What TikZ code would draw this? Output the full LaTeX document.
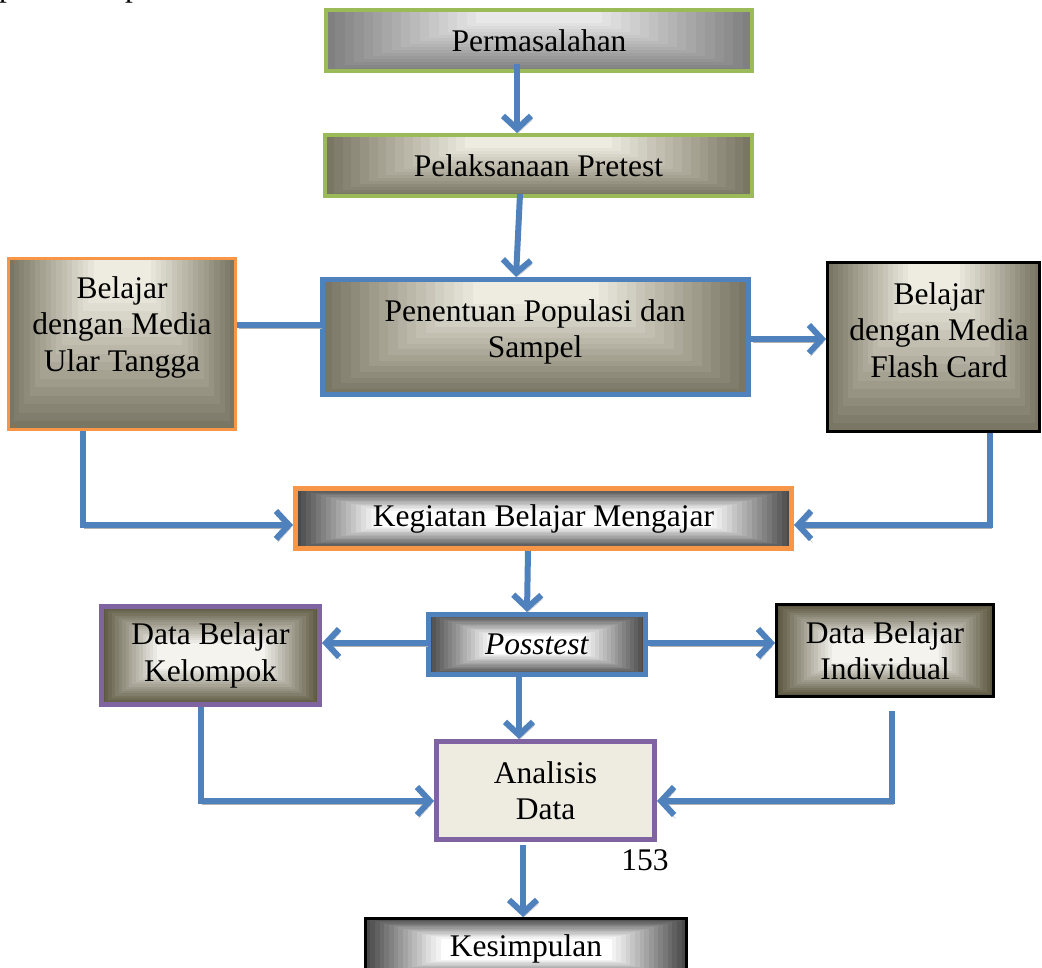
\documentclass[tikz,border=0pt]{standalone}
\usepackage{fontspec}
\setmainfont{Liberation Serif}
\usetikzlibrary{arrows.meta,calc,backgrounds}
\definecolor{arrblue}{HTML}{4F81BD}
\definecolor{bgreen}{HTML}{9BBB59}
\definecolor{borange}{HTML}{F79646}
\definecolor{bpurple}{HTML}{8064A2}
\definecolor{tandark}{HTML}{7A7664}
\definecolor{tanlight}{HTML}{EEECE1}
\definecolor{graydark}{HTML}{808080}
\definecolor{graylight}{HTML}{E8E8E8}
\definecolor{darkgr}{HTML}{4A4A4A}
\definecolor{olivedark}{HTML}{5C5740}
\definecolor{olivelight}{HTML}{F4F3EE}
\tikzset{
  topgrad/.style n args={4}{path picture={
    \foreach \i in {0,...,16}{
      \pgfmathtruncatemacro\gp{100*\i/16}
      \pgfmathsetmacro\gt{\i/16}
      \fill[#2!\gp!#1] ($(path picture bounding box.south west)+(\gt*#3,-\gt*#4)$) rectangle ($(path picture bounding box.north east)+(-\gt*#3,0)$);
    }}},
  midgrad/.style n args={4}{path picture={
    \foreach \i in {0,...,16}{
      \pgfmathtruncatemacro\gp{100*\i/16}
      \pgfmathsetmacro\gt{\i/16}
      \fill[#2!\gp!#1] ($(path picture bounding box.south west)+(\gt*#3,-\gt*#4)$) rectangle ($(path picture bounding box.north east)+(-\gt*#3,\gt*#4)$);
    }}},
  box/.style={draw, rectangle, inner sep=0pt, align=center, font=\fontsize{31.5}{36.5}\selectfont},
  txt/.style={inner sep=0pt, align=center, font=\fontsize{31.5}{36.5}\selectfont},
  conn/.style={draw=arrblue, line width=6pt, preaction={draw=black!30, transform canvas={shift={(1.5pt,-3.5pt)}}}},
  arr/.style={conn, -{Straight Barb[length=13pt,width=28pt]}},
}
\begin{document}
\begin{tikzpicture}[x=1pt,y=-1pt]
\useasboundingbox (0,0) rectangle (1042,968);
\clip (0,0) rectangle (1042,968);
\fill[white] (0,0) rectangle (1042,968);

% text fragment cut off at the top edge (as in the reference)
\node[txt, anchor=base west] (frag1) at (-1,-3) {p};
\node[txt, anchor=base west] (frag2) at (125,-3) {p};

% boxes
\node[box, draw=bgreen, line width=4pt, topgrad={graydark}{graylight}{150}{48}, minimum width=426pt, minimum height=61pt] (perm) at (539,40.5) {Permasalahan};
\node[box, draw=bgreen, line width=4pt, topgrad={tandark}{tanlight}{140}{48}, minimum width=427pt, minimum height=61pt] (pel) at (538.5,165.5) {Pelaksanaan Pretest};
\node[box, draw=arrblue, line width=5pt, topgrad={tandark}{tanlight}{150}{90}, minimum width=426pt, minimum height=115pt] (pen) at (535.5,337) {};
\node[txt] (pentxt) at (535,332) {Penentuan Populasi dan\\Sampel};
\node[box, draw=borange, line width=3pt, topgrad={tandark}{tanlight}{85}{135}, minimum width=227pt, minimum height=171pt] (ular) at (122,344) {};
\node[txt] (ulartxt) at (122,327) {Belajar\\dengan Media\\Ular Tangga};
\node[box, draw=black, line width=3pt, topgrad={tandark}{tanlight}{80}{135}, minimum width=212pt, minimum height=169pt] (flash) at (933.5,347) {};
\node[txt] (flashtxt) at (939,330) {Belajar\\dengan Media\\Flash Card};
\node[box, draw=borange, line width=5pt, midgrad={darkgr}{white}{80}{22}, minimum width=496pt, minimum height=60pt] (keg) at (543.5,518.5) {Kegiatan Belajar Mengajar};
\node[box, draw=arrblue, line width=5pt, midgrad={darkgr}{white}{62}{21}, minimum width=217pt, minimum height=60pt] (post) at (537,644.5) {\textit{Posstest}};
\node[box, draw=bpurple, line width=5pt, midgrad={olivedark}{olivelight}{55}{36}, minimum width=218pt, minimum height=98pt] (kel) at (210.5,655.5) {Data Belajar\\Kelompok};
\node[box, draw=black, line width=3pt, midgrad={olivedark}{olivelight}{55}{34}, minimum width=217pt, minimum height=92pt] (ind) at (885,650.5) {Data Belajar\\Individual};
\node[box, draw=bpurple, line width=5pt, fill=tanlight, minimum width=218pt, minimum height=98pt] (anal) at (545.5,790.5) {Analisis\\Data};
\node[box, draw=black, line width=3pt, midgrad={darkgr}{white}{75}{20}, minimum width=321pt, minimum height=61pt] (kes) at (526,949) {Kesimpulan};
\node[txt] (pnum) at (645,860) {153};

\begin{scope}[on background layer]
\fill[black!30] ([xshift=3pt,yshift=-3pt]ular.south west) rectangle ([xshift=3pt,yshift=-3pt]ular.north east);
\end{scope}

% connectors
\draw[arr] ([xshift=-22pt,yshift=9pt]perm.south) -- ([xshift=-21.5pt]pel.north);
\draw[arr] ([xshift=-18.5pt,yshift=4pt]pel.south) -- ([xshift=-19.5pt]pen.north);
\draw[conn] ([yshift=19pt]ular.east) -- ([yshift=19pt]ular.east -| pen.west);
\draw[arr] ([yshift=-2pt]pen.east) -- ([yshift=-2pt]pen.east -| flash.west);
\draw[arr] ([xshift=-39pt]ular.south) |- ([yshift=-6.5pt]keg.west);
\draw[arr] ([xshift=56.5pt]flash.south) |- ([yshift=-6.5pt]keg.east);
\draw[arr] ([xshift=-15.5pt]keg.south) -- ([xshift=-10pt]post.north);
\draw[arr] ([yshift=1.5pt]post.west) -- ([yshift=1.5pt]post.west -| kel.east);
\draw[arr] ([yshift=1.5pt]post.east) -- ([yshift=1.5pt]post.east -| ind.west);
\draw[arr] ([xshift=-18pt]post.south) -- ([xshift=-26.5pt]anal.north);
\draw[arr] ([xshift=-9.5pt]kel.south) |- ([yshift=-10.5pt]anal.west);
\draw[arr] ([xshift=7pt,yshift=-13pt]ind.south) |- ([yshift=-10.5pt]anal.east);
\draw[arr] ([xshift=-22.5pt,yshift=-3pt]anal.south) -- ([xshift=-3pt]kes.north);
\end{tikzpicture}
\end{document}
